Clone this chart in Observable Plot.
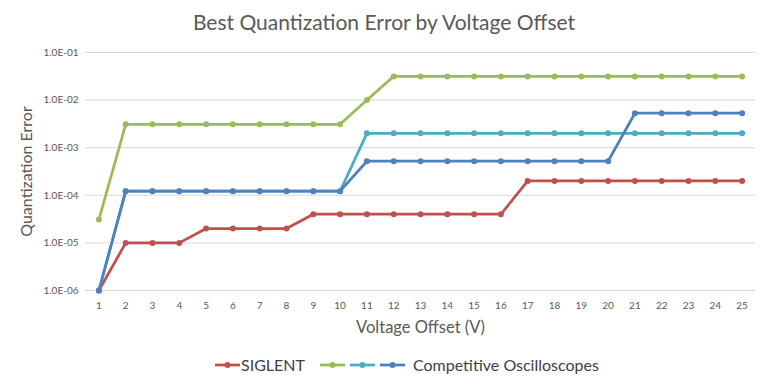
<!DOCTYPE html>
<html>
<head>
<meta charset="utf-8">
<script src="https://cdn.jsdelivr.net/npm/d3@7"></script>
<script src="https://cdn.jsdelivr.net/npm/@observablehq/plot@0.6"></script>
<style>
  body { margin: 0; background: #fff; }
  #wrap { position: relative; width: 768px; height: 387px; font-family: Lato, "Open Sans", sans-serif; overflow: hidden; }
  #title { position: absolute; top: 9px; left: 0; width: 768px; text-align: center; font-size: 21px; color: #595959; }
  #legend { position: absolute; top: 355px; left: 215px; display: flex; align-items: center; font-size: 16px; color: #404040; }
  #legend .sw { display: inline-block; }
  #chart { position: absolute; top: 0; left: 0; }
</style>
</head>
<body>
<div id="wrap">
  <div id="chart"></div>
  <div id="title">Best Quantization Error by Voltage Offset</div>
  <div id="legend"></div>
</div>
<script>
const voltages = [1,2,3,4,5,6,7,8,9,10,11,12,13,14,15,16,17,18,19,20,21,22,23,24,25];
const siglent = [1e-6,1e-5,1e-5,1e-5,2e-5,2e-5,2e-5,2e-5,4e-5,4e-5,4e-5,4e-5,4e-5,4e-5,4e-5,4e-5,2e-4,2e-4,2e-4,2e-4,2e-4,2e-4,2e-4,2e-4,2e-4];
const compA = [3.1e-5,3.1e-3,3.1e-3,3.1e-3,3.1e-3,3.1e-3,3.1e-3,3.1e-3,3.1e-3,3.1e-3,1e-2,3.15e-2,3.15e-2,3.15e-2,3.15e-2,3.15e-2,3.15e-2,3.15e-2,3.15e-2,3.15e-2,3.15e-2,3.15e-2,3.15e-2,3.15e-2,3.15e-2];
const compB = [1e-6,1.22e-4,1.22e-4,1.22e-4,1.22e-4,1.22e-4,1.22e-4,1.22e-4,1.22e-4,1.22e-4,2e-3,2e-3,2e-3,2e-3,2e-3,2e-3,2e-3,2e-3,2e-3,2e-3,2e-3,2e-3,2e-3,2e-3,2e-3];
const compC = [1e-6,1.22e-4,1.22e-4,1.22e-4,1.22e-4,1.22e-4,1.22e-4,1.22e-4,1.22e-4,1.22e-4,5.2e-4,5.2e-4,5.2e-4,5.2e-4,5.2e-4,5.2e-4,5.2e-4,5.2e-4,5.2e-4,5.2e-4,5.3e-3,5.3e-3,5.3e-3,5.3e-3,5.3e-3];
const yTicks = [1e-6,1e-5,1e-4,1e-3,1e-2,1e-1];
const seriesNames = ["SIGLENT", "Competitive A", "Competitive B", "Competitive C"];
const seriesColors = ["#C0504D", "#9BBB59", "#4BACC6", "#4F81BD"];
const seriesValues = [siglent, compA, compB, compC];

const rows = [];
seriesNames.forEach((s, i) => {
  voltages.forEach((v, j) => rows.push({series: s, v, e: seriesValues[i][j]}));
});

const fmt = d => {
  const exp = Math.round(Math.log10(d));
  const sign = exp < 0 ? "-" : "+";
  return "1.0E" + sign + String(Math.abs(exp)).padStart(2, "0");
};

const marks = [
  Plot.gridY(yTicks, {stroke: "#D9D9D9", strokeOpacity: 1, strokeWidth: 1}),
  Plot.axisY(yTicks, {tickFormat: fmt, tickSize: 0, tickPadding: 7, fontSize: 10, fill: "#595959", label: null}),
  Plot.axisY({ticks: [], label: "Quantization Error", labelAnchor: "center", labelOffset: 65, labelArrow: "none", fontSize: 16, fill: "#595959"}),
  Plot.axisX(voltages, {tickSize: 0, tickPadding: 11, fontSize: 10, fill: "#595959", label: null}),
  Plot.axisX({ticks: [], label: "Voltage Offset (V)", labelAnchor: "center", labelOffset: 42, labelArrow: "none", fontSize: 16.5, fill: "#595959"})
];
seriesNames.forEach((s, i) => {
  const d = rows.filter(r => r.series === s);
  marks.push(Plot.line(d, {x: "v", y: "e", stroke: seriesColors[i], strokeWidth: 2.75}));
  marks.push(Plot.dot(d, {x: "v", y: "e", fill: seriesColors[i], r: 3}));
});

const chart = Plot.plot({
  width: 768,
  height: 387,
  marginTop: 52,
  marginBottom: 97,
  marginLeft: 85,
  marginRight: 13,
  style: {fontFamily: "Lato, 'Open Sans', sans-serif", background: "white"},
  x: {type: "point", domain: voltages, padding: 0.5, round: false},
  y: {type: "log", domain: [1e-6, 1e-1]},
  marks
});
document.getElementById("chart").appendChild(chart);

// legend
const legend = document.getElementById("legend");
function swatch(color, mr) {
  const ns = "http://www.w3.org/2000/svg";
  const svg = document.createElementNS(ns, "svg");
  svg.setAttribute("width", 25); svg.setAttribute("height", 10);
  svg.setAttribute("class", "sw");
  svg.style.marginRight = mr + "px";
  const l = document.createElementNS(ns, "line");
  l.setAttribute("x1", 0); l.setAttribute("x2", 25); l.setAttribute("y1", 5); l.setAttribute("y2", 5);
  l.setAttribute("stroke", color); l.setAttribute("stroke-width", 2.75);
  const c = document.createElementNS(ns, "circle");
  c.setAttribute("cx", 12.5); c.setAttribute("cy", 5); c.setAttribute("r", 3); c.setAttribute("fill", color);
  svg.appendChild(l); svg.appendChild(c);
  return svg;
}
legend.appendChild(swatch(seriesColors[0], 1));
let t = document.createElement("span"); t.textContent = "SIGLENT"; t.style.marginRight = "15px"; legend.appendChild(t);
legend.appendChild(swatch(seriesColors[1], 5));
legend.appendChild(swatch(seriesColors[2], 5));
legend.appendChild(swatch(seriesColors[3], 8));
t = document.createElement("span"); t.textContent = "Competitive Oscilloscopes"; legend.appendChild(t);
</script>
</body>
</html>
